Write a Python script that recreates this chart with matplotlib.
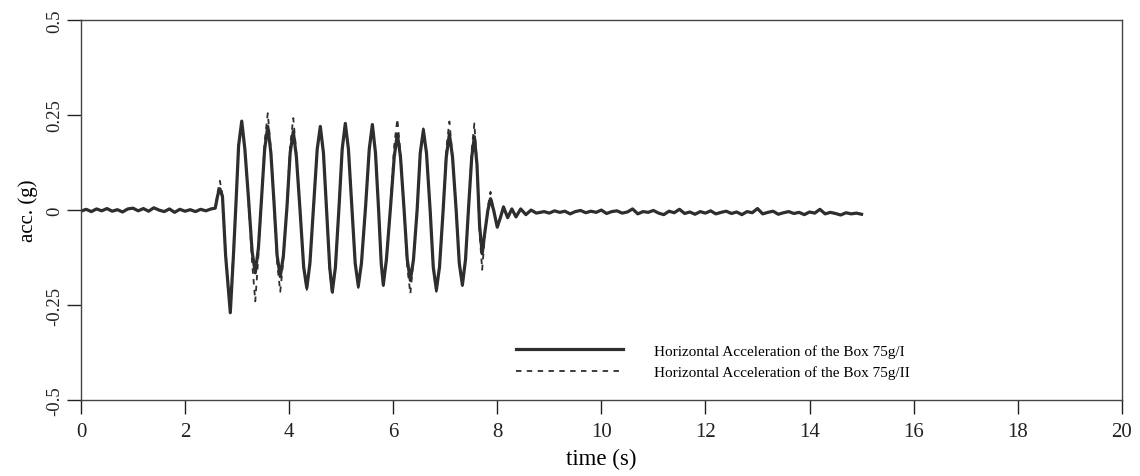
import numpy as np
import matplotlib
matplotlib.use('Agg')
import matplotlib.pyplot as plt

plt.rcParams['font.family'] = ['Liberation Serif', 'DejaVu Serif']

# quiet part before shaking (shared by both records)
t_pre = np.round(np.arange(0.0, 2.51, 0.1), 2)
y_pre = [-0.003, 0.002, -0.004, 0.003, -0.002, 0.004, -0.003, 0.001, -0.005, 0.003,
         0.005, -0.002, 0.004, -0.003, 0.006, 0.000, -0.004, 0.003, -0.006, 0.002,
         -0.003, 0.001, -0.004, 0.002, -0.002, 0.003]

# shaking part
t_shake = [2.58, 2.63, 2.67, 2.72, 2.78, 2.87, 2.93, 2.98, 3.03, 3.09,
           3.15, 3.22, 3.29, 3.35, 3.41, 3.47, 3.53, 3.59, 3.65, 3.71,
           3.77, 3.83, 3.89, 3.96, 4.02, 4.08, 4.14, 4.21, 4.28, 4.34,
           4.40, 4.47, 4.54, 4.60, 4.66, 4.72, 4.78, 4.83, 4.89, 4.96,
           5.02, 5.08, 5.14, 5.21, 5.27, 5.33, 5.39, 5.47, 5.54, 5.60,
           5.66, 5.72, 5.77, 5.81, 5.87, 5.95, 6.02, 6.08, 6.14, 6.21,
           6.27, 6.33, 6.39, 6.46, 6.52, 6.58, 6.64, 6.71, 6.77, 6.83,
           6.89, 6.96, 7.02, 7.08, 7.14, 7.21, 7.27, 7.33, 7.39, 7.45,
           7.51, 7.56, 7.61, 7.66, 7.71, 7.76, 7.82, 7.87, 7.93, 8.00,
           8.06, 8.12, 8.20, 8.28, 8.36, 8.45, 8.55, 8.65, 8.75]
acc_I = [0.005, 0.040, 0.056, 0.035, -0.120, -0.270, -0.120, 0.020, 0.170, 0.234,
         0.160, 0.030, -0.110, -0.165, -0.100, 0.030, 0.160, 0.220, 0.150, 0.020,
         -0.120, -0.175, -0.120, 0.010, 0.150, 0.207, 0.140, 0.000, -0.150, -0.205,
         -0.140, 0.010, 0.160, 0.220, 0.150, 0.000, -0.150, -0.215, -0.150, 0.010,
         0.160, 0.228, 0.160, 0.000, -0.140, -0.200, -0.140, 0.010, 0.160, 0.225,
         0.150, 0.000, -0.140, -0.197, -0.130, 0.010, 0.140, 0.200, 0.140, 0.000,
         -0.130, -0.185, -0.130, 0.000, 0.150, 0.210, 0.150, 0.000, -0.150, -0.210,
         -0.150, 0.000, 0.140, 0.200, 0.140, 0.000, -0.140, -0.197, -0.130, 0.010,
         0.140, 0.193, 0.120, -0.040, -0.115, -0.060, 0.000, 0.030, 0.000, -0.045,
         -0.020, 0.008, -0.020, 0.003, -0.018, 0.003, -0.012, 0.000, -0.008]
acc_II = [0.005, 0.050, 0.077, 0.040, -0.110, -0.250, -0.110, 0.030, 0.170, 0.230,
          0.160, 0.020, -0.140, -0.240, -0.120, 0.030, 0.180, 0.255, 0.160, 0.010,
          -0.140, -0.215, -0.130, 0.020, 0.170, 0.242, 0.150, 0.000, -0.150, -0.210,
          -0.140, 0.010, 0.160, 0.220, 0.150, 0.000, -0.160, -0.225, -0.150, 0.010,
          0.160, 0.230, 0.160, 0.000, -0.140, -0.205, -0.140, 0.010, 0.160, 0.225,
          0.150, 0.000, -0.140, -0.200, -0.130, 0.020, 0.170, 0.240, 0.150, 0.000,
          -0.150, -0.220, -0.130, 0.000, 0.150, 0.215, 0.150, 0.000, -0.150, -0.215,
          -0.150, 0.000, 0.160, 0.233, 0.140, 0.000, -0.140, -0.200, -0.130, 0.010,
          0.160, 0.228, 0.120, -0.060, -0.157, -0.070, 0.010, 0.048, 0.000, -0.040,
          -0.020, 0.010, -0.020, 0.003, -0.018, 0.003, -0.012, 0.000, -0.008]

# quiet part after shaking (shared by both records)
t_post = np.round(np.arange(8.9, 15.01, 0.1), 2)
y_post = [-0.004, -0.008, -0.002, -0.006, -0.003, -0.010, -0.004, -0.001, -0.007, -0.003,
          -0.006, 0.000, -0.009, -0.004, -0.002, -0.008, -0.005, 0.003, -0.010, -0.004,
          -0.006, -0.001, -0.008, -0.012, -0.003, -0.007, 0.002, -0.009, -0.005, -0.011,
          -0.004, -0.008, -0.002, -0.010, -0.006, -0.003, -0.009, -0.005, -0.012, -0.004,
          -0.007, 0.004, -0.010, -0.006, -0.003, -0.011, -0.007, -0.004, -0.009, -0.006,
          -0.012, -0.005, -0.008, 0.002, -0.010, -0.006, -0.009, -0.013, -0.007, -0.010,
          -0.008, -0.011]

t = np.concatenate([t_pre, t_shake, t_post])
a1 = np.concatenate([y_pre, acc_I, y_post])
a2 = np.concatenate([y_pre, acc_II, y_post])

labels = ['Horizontal Acceleration of the Box 75g/I',
          'Horizontal Acceleration of the Box 75g/II']

fig = plt.figure(figsize=(11.4, 4.77), dpi=100)
ax = fig.add_axes([0.071, 0.159, 0.913, 0.797])

ax.plot(t, a2, color='#2e2e2e', lw=1.3, ls=(0, (3, 3)), label=labels[1])
ax.plot(t, a1, color='#2e2e2e', lw=2.3, label=labels[0])

ax.set_xlim(0, 20)
ax.set_ylim(-0.5, 0.5)
ax.set_xticks(np.arange(0, 21, 2))
ax.set_yticks([-0.5, -0.25, 0, 0.25, 0.5])
ax.set_yticklabels(['-0.5', '-0.25', '0', '0.25', '0.5'], rotation=90, va='center')
ax.tick_params(direction='out', length=10, width=1, colors='#222222')
ax.tick_params(axis='x', pad=6, labelsize=15)
ax.tick_params(axis='y', pad=3, labelsize=13.5)
for s in ax.spines.values():
    s.set_linewidth(1)
    s.set_color('#444444')

ax.set_xlabel('time (s)', fontsize=16.5, labelpad=5)
ax.set_ylabel('acc. (g)', fontsize=15, labelpad=6)

h, l = ax.get_legend_handles_labels()
ax.legend(h[::-1], l[::-1], loc='upper left', bbox_to_anchor=(0.405, 0.184),
          frameon=False, fontsize=11, handlelength=7, handletextpad=2.0,
          labelspacing=0.5)

fig.savefig('out.png', dpi=100)
